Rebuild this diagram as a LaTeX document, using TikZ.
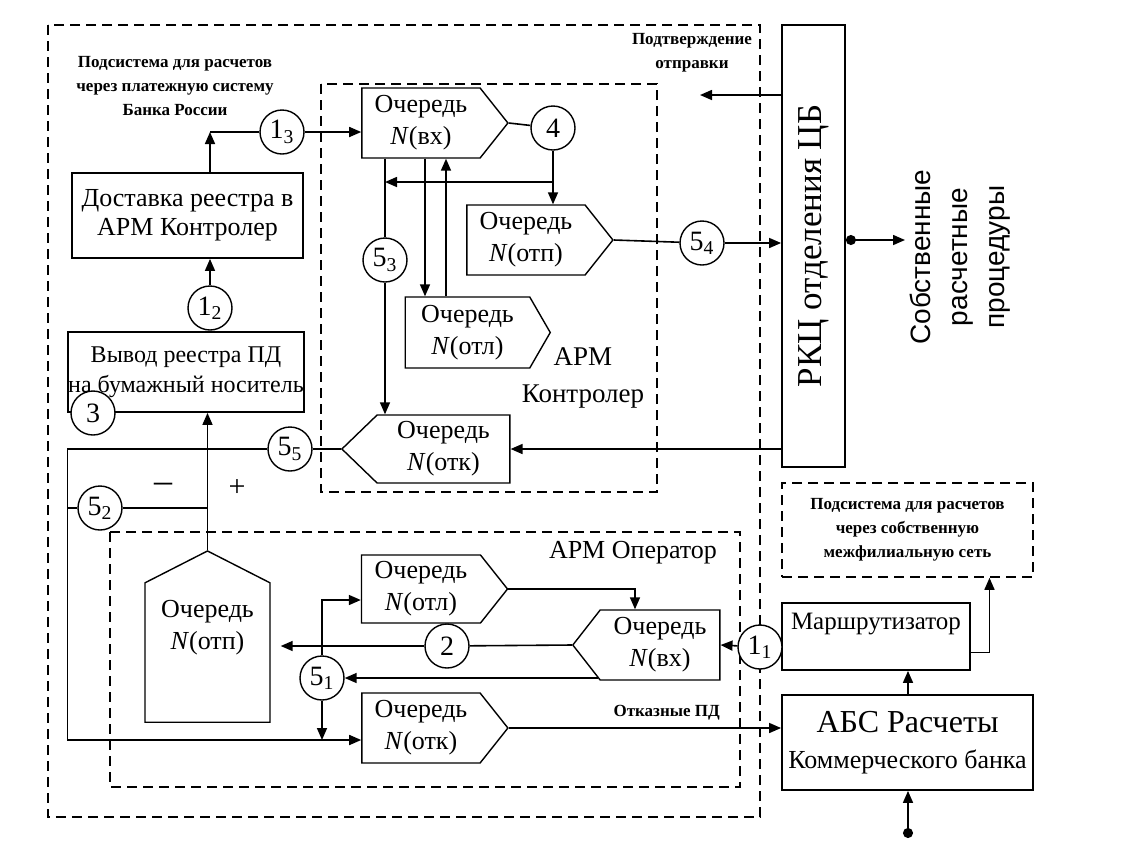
\documentclass[tikz,border=0pt]{standalone}
\usepackage{fontspec}
\setmainfont{Liberation Serif}
\newfontfamily\sansfont{Liberation Sans}
\usetikzlibrary{shapes.symbols,arrows.meta,positioning}
\newcommand{\qfont}{\fontsize{13}{16}\selectfont}

\begin{document}
\begin{tikzpicture}[x=0.5pt,y=-0.5pt,
    line width=0.8pt,
    arr/.style={-{Triangle[length=6pt,width=5pt]}},
    box/.style={rectangle,draw,line width=0.9pt,align=center,inner sep=1pt},
    circ/.style={circle,draw,line width=0.7pt,minimum size=22pt,inner sep=0pt,
                 font=\fontsize{14}{14}\selectfont},
    queue/.style={signal,draw,line width=0.7pt,align=center,inner sep=0pt,font=\qfont},
    zone/.style={draw,dash pattern=on 5pt off 3pt,line width=0.8pt},
    note/.style={align=center,font=\fontsize{8.5}{12}\selectfont\bfseries}]

    \useasboundingbox (0,0) rectangle (1126,848);

    % dashed zones
    \draw[zone] (48,25) rectangle (760,817);
    \draw[zone] (321,84) rectangle (657,492);
    \draw[zone] (110,532) rectangle (740,787);

    % captions
    \node[note] (bankru) at (175,86) {Подсистема для расчетов\\через платежную систему\\Банка России};
    \node[note] (confirm) at (692,53) {Подтверждение\\отправки};
    \node[align=center,font=\fontsize{13.5}{18.5}\selectfont] (armk) at (583,378) {АРМ\\Контролер};
    \node[font=\fontsize{13}{16}\selectfont] (armo) at (633,553) {АРМ Оператор};
    \node (minus) at (163,488) {\fontsize{18}{18}\selectfont –};
    \node (plus) at (237,488) {\fontsize{15}{15}\selectfont +};

    % right column
    \node[box,minimum width=31.5pt,minimum height=221pt,
          label={[rotate=90,font=\fontsize{17.5}{19}\selectfont]center:РКЦ отделения ЦБ}] (rkc) at (813.5,246) {};
    \node[rotate=90,align=center,font=\sansfont\fontsize{14}{18.5}\selectfont] (own) at (960,257) {Собственные\\расчетные\\процедуры};
    \node[zone,note,minimum width=125.5pt,minimum height=47pt] (sub) at (907.5,530) {Подсистема для расчетов\\через собственную\\межфилиальную сеть};
    \node[box,minimum width=94pt,minimum height=33.5pt,text depth=15pt,
          font=\fontsize{12.5}{14}\selectfont] (mar) at (876,636.5) {Маршрутизатор};
    \node[box,minimum width=125.5pt,minimum height=47.5pt,font=\fontsize{13}{18}\selectfont] (abs) at (907.5,742.5)
        {{\fontsize{16}{18}\selectfont АБС Расчеты}\\Коммерческого банка};

    % left boxes
    \node[box,minimum width=115.5pt,minimum height=42.5pt,font=\fontsize{13}{14.5}\selectfont] (dost) at (187.5,215.5)
        {Доставка реестра в\\АРМ Контролер};
    \node[box,minimum width=114pt,minimum height=40pt,inner sep=0pt,font=\fontsize{12}{15}\selectfont] (vyv) at (186,372)
        {Вывод реестра ПД\\на бумажный носитель};

    % queues of the controller
    \node[queue,signal to=east,signal pointer angle=103,minimum width=73pt,minimum height=35pt] (kin) at (421,123)
        {Очередь\\\textit{N}(вх)};
    \node[queue,signal to=east,signal pointer angle=103,minimum width=73pt,minimum height=35pt] (kotp) at (526,240)
        {Очередь\\\textit{N}(отп)};
    \node[queue,signal to=east,signal pointer angle=120,minimum width=72.5pt,minimum height=35.5pt] (kotl) at (467.5,332.5)
        {Очередь\\\textit{N}(отл)};
    \node[queue,signal to=west,signal pointer angle=88,minimum width=84pt,minimum height=34pt] (kotk) at (443.5,449)
        {Очередь\\\textit{N}(отк)};

    % queues of the operator
    \node[queue,signal to=west,signal pointer angle=104,minimum width=73.5pt,minimum height=35pt] (oin) at (660,645)
        {Очередь\\\textit{N}(вх)};
    \node[queue,signal to=east,signal pointer angle=103,minimum width=73pt,minimum height=34pt] (ootl) at (421,589)
        {Очередь\\\textit{N}(отл)};
    \node[queue,signal to=east,signal pointer angle=103,minimum width=73pt,minimum height=35pt] (ootk) at (421,728)
        {Очередь\\\textit{N}(отк)};
    \node[queue,signal to=north,signal pointer angle=126,minimum width=62.5pt,minimum height=81.5pt,text depth=28pt] (ootp) at (207.5,652.5)
        {Очередь\\\textit{N}(отп)};

    % numbered points
    \node[circ] (c13) at (282,132) {1\textsubscript{3}};
    \node[circ] (c12) at (210,308) {1\textsubscript{2}};
    \node[circ,fill=white] (c3) at (93,413) {3};
    \node[circ] (c55) at (290,449) {5\textsubscript{5}};
    \node[circ] (c52) at (100,508) {5\textsubscript{2}};
    \node[circ] (c53) at (385,260) {5\textsubscript{3}};
    \node[circ] (c4) at (553,128) {4};
    \node[circ] (c54) at (702,243) {5\textsubscript{4}};
    \node[circ] (c2) at (447,646) {2};
    \node[circ] (c51) at (322,678) {5\textsubscript{1}};
    \node[circ,fill=white] (c11) at (760,647) {1\textsubscript{1}};

    % free ends
    \coordinate (confend) at (700,95);
    \coordinate (ownin) at (905,240);
    \coordinate (src) at (908,838);
    \coordinate (j13) at (c12 |- c13);
    \coordinate (j4) at (c4 |- 0,182);
    \coordinate (oinlo) at (598,678);
    \coordinate (jbot) at ([yshift=-6pt]ootk.west);

    % right column links
    \draw[arr] (confend -| rkc.west) -- (confend);
    \draw[{Circle[length=5pt]}-{Triangle[length=6pt,width=5pt]}] (rkc.east |- ownin) -- (ownin);
    \draw[{Circle[length=5pt]}-{Triangle[length=6pt,width=5pt]}] (src) -- (src |- abs.south);
    \draw[arr] (abs.north -| src) -- (mar.south -| src);
    \draw[arr] ([yshift=-8pt]mar.east) -| ([xshift=41pt]sub.south);

    % controller links
    \draw (c12 |- vyv.north) -- (c12);
    \draw[arr] (c12) -- (c12 |- dost.south);
    \draw[arr] (c12 |- dost.north) -- (j13);
    \draw (j13) -- (c13);
    \draw[arr] (c13) -- (c13 -| kin.west);
    \draw (kin.east) -- (c4);
    \draw[arr] (c4) -- (c4 |- kotp.north);
    \draw[arr] (j4) -- (j4 -| c53);
    \draw (c53 |- kin.south) -- (c53);
    \draw[arr] (c53) -- (c53 |- kotk.north);
    \draw[arr] ([xshift=2pt]kin.south) -- ([xshift=2pt]kin.south |- kotl.north);
    \draw[arr] ([xshift=12.5pt]kin.south |- kotl.north) -- ([xshift=12.5pt]kin.south);
    \draw (kotp.east) -- (c54);
    \draw[arr] (c54) -- (c54 -| rkc.west);
    \draw[arr] (kotk.east -| rkc.west) -- (kotk.east);
    \draw (kotk.west) -- (c55);
    \draw[arr] (c55) -- (c55 -| vyv.west) |- (jbot);
    \draw (c52 -| vyv.west) -- (c52) -- (c52 -| ootp.north);
    \draw[arr] (ootp.north) -- (ootp.north |- vyv.south);

    % operator links
    \draw[arr] (ootl.east) -| ([xshift=-12.5pt]oin.north);
    \draw[arr] (c11) -- (oin.east);
    \draw (oin.west) -- (c2);
    \draw[arr] (c2) -- ([xshift=5pt]ootp.east |- c2);
    \draw[arr] (oinlo) -- (c51);
    \draw[arr] (c51) |- ([yshift=-5.5pt]ootl.west);
    \draw[arr] (c51) -- (c51 |- jbot);
    \draw[arr] (ootk.east) -- (ootk.east -| abs.west) node[note,above,pos=0.58] (rejtxt) {Отказные ПД};
\end{tikzpicture}
\end{document}
